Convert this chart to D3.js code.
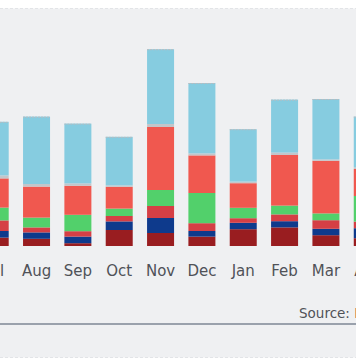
<!DOCTYPE html>
<html>
<head>
<meta charset="utf-8">
<script src="https://cdn.jsdelivr.net/npm/d3@7"></script>
<style>
  html, body { margin: 0; padding: 0; background: #ffffff; }
  svg { display: block; }
  text { font-family: "DejaVu Sans", "Noto Sans", sans-serif; }
</style>
</head>
<body>
<svg id="chart" width="356" height="364"></svg>
<script>
// Months shown (the first and last are partly cut off in the reference)
const months = ["Jul", "Aug", "Sep", "Oct", "Nov", "Dec", "Jan", "Feb", "Mar", "Apr"];

// Series values, stacked bottom to top (units)
const seriesNames = ["maroon", "navy", "midred", "green", "red", "grey", "blue"];
const maroon = [4.2, 3.6, 1.4, 8.0, 6.5, 4.7, 8.4, 9.3, 5.4, 3.9];
const navy   = [3.3, 3.2, 3.3, 4.3, 7.5, 2.8, 3.2, 3.1, 3.2, 5.0];
const midred = [5.3, 2.5, 2.7, 2.7, 6.0, 3.9, 2.3, 3.4, 4.3, 3.3];
const green  = [6.4, 4.9, 8.2, 3.7, 8.0, 15.1, 5.2, 4.4, 3.4, 12.8];
const red    = [14.6, 15.5, 14.5, 10.9, 31.5, 18.8, 12.3, 25.3, 26.3, 13.5];
const grey   = [1.5, 1.3, 1.2, 0.7, 1.5, 1.0, 0.8, 1.2, 0.7, 0.9];
const blue   = [26.8, 33.7, 29.9, 24.3, 37.4, 35.2, 26.2, 26.5, 30.2, 25.3];

const colors = {
  maroon: "#991d20",
  navy:   "#0e3a8c",
  midred: "#d53f45",
  green:  "#52d06b",
  red:    "#f0584f",
  grey:   "#c3c6ca",
  blue:   "#86cce0"
};

const sourceLabel = "Source: ";
const sourceName = "IEA";

const table = months.map((m, i) => ({
  month: m,
  maroon: maroon[i], navy: navy[i], midred: midred[i], green: green[i],
  red: red[i], grey: grey[i], blue: blue[i]
}));

const svg = d3.select("#chart");
const W = 356, H = 364;

// Panel background
svg.append("rect").attr("x", 0).attr("y", 0).attr("width", W).attr("height", H).attr("fill", "#ffffff");
svg.append("rect").attr("x", 0).attr("y", 8.5).attr("width", W).attr("height", 349).attr("fill", "#eff0f2");
svg.append("line").attr("x1", 0).attr("x2", W).attr("y1", 8.5).attr("y2", 8.5)
  .attr("stroke", "#e2e4e7").attr("stroke-width", 1).attr("stroke-dasharray", "3,2");
svg.append("line").attr("x1", 0).attr("x2", W).attr("y1", 357.5).attr("y2", 357.5)
  .attr("stroke", "#e2e4e7").attr("stroke-width", 1).attr("stroke-dasharray", "3,2");

const step = 41.34;
const pInner = 1 - 27 / step;
const firstBarX = -18.3;
const x = d3.scaleBand()
  .domain(months)
  .range([firstBarX - (pInner / 2) * step, firstBarX - (pInner / 2) * step + months.length * step])
  .paddingInner(pInner)
  .paddingOuter(pInner / 2);

const y = d3.scaleLinear().domain([0, 100]).range([246, 46]);

const stack = d3.stack().keys(seriesNames);
const stacked = stack(table);

const g = svg.append("g");
g.selectAll("g.series")
  .data(stacked)
  .join("g")
  .attr("class", "series")
  .attr("fill", d => colors[d.key])
  .selectAll("rect")
  .data(d => d)
  .join("rect")
  .attr("x", d => x(d.data.month))
  .attr("width", x.bandwidth())
  .attr("y", d => y(d[1]))
  .attr("height", d => y(d[0]) - y(d[1]));

// thin dotted cap on each bar top
const topLayer = stacked[stacked.length - 1];
g.selectAll("line.cap")
  .data(topLayer)
  .join("line")
  .attr("class", "cap")
  .attr("x1", d => x(d.data.month))
  .attr("x2", d => x(d.data.month) + x.bandwidth())
  .attr("y1", d => y(d[1]) + 0.5)
  .attr("y2", d => y(d[1]) + 0.5)
  .attr("stroke", "#b9bcc0")
  .attr("stroke-width", 1)
  .attr("stroke-dasharray", "2,1");

// x axis labels
const xAxis = d3.axisBottom(x).tickSize(0).tickPadding(0);
const ax = svg.append("g").attr("transform", "translate(0,262)").call(xAxis);
ax.select(".domain").remove();
ax.selectAll("text")
  .attr("y", 14)
  .attr("dy", 0)
  .attr("fill", "#505258")
  .attr("font-size", "15px")
  .attr("font-family", "'DejaVu Sans', sans-serif");

// Source line
const src = svg.append("text")
  .attr("x", 299)
  .attr("y", 317.5)
  .attr("font-size", "13.5px")
  .attr("fill", "#505258");
src.append("tspan").text(sourceLabel);
src.append("tspan").attr("fill", "#b8453d").text(sourceName);

// bottom rule
svg.append("line").attr("x1", 0).attr("x2", W).attr("y1", 324).attr("y2", 324)
  .attr("stroke", "#7e8794").attr("stroke-width", 1.5);
</script>
</body>
</html>
